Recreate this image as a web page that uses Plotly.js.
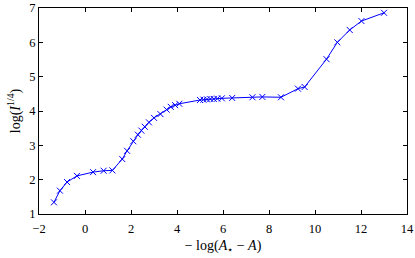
<!DOCTYPE html>
<html>
<head>
<meta charset="utf-8">
<script src="https://cdn.plot.ly/plotly-3.0.1.min.js"></script>
<style>html,body{margin:0;padding:0;background:#fff;}#chart{width:415px;height:258px;}</style>
</head>
<body>
<div id="chart"></div>
<script>
const xValues = [-1.35, -1.09, -0.78, -0.35, 0.35, 0.81, 1.19, 1.62, 1.83, 2.10, 2.30, 2.45, 2.60, 2.78, 3.00, 3.28, 3.55, 3.73, 3.92, 4.10,
  5.00, 5.15, 5.30, 5.45, 5.60, 5.75, 5.95, 6.40, 7.28, 7.71, 8.52, 9.26, 9.55, 10.50, 10.97, 11.51, 12.02, 13.00];
const yValues = [1.34, 1.68, 1.93, 2.11, 2.22, 2.26, 2.27, 2.60, 2.84, 3.12, 3.31, 3.43, 3.54, 3.67, 3.80, 3.91, 4.04, 4.12, 4.17, 4.21,
  4.32, 4.33, 4.34, 4.35, 4.35, 4.36, 4.37, 4.38, 4.40, 4.41, 4.40, 4.65, 4.70, 5.51, 6.00, 6.36, 6.62, 6.86];
const xTicks = [-2, 0, 2, 4, 6, 8, 10, 12, 14];
const yTicks = [1, 2, 3, 4, 5, 6, 7];
const xTickText = ['\u22122', '0', '2', '4', '6', '8', '10', '12', '14'];

const font = {family: 'Liberation Serif, serif', size: 12.5, color: '#000'};
const titleFont = {family: 'Liberation Serif, serif', size: 14, color: '#000'};
const axisCommon = {
  showgrid: false, zeroline: false, showline: true, linecolor: '#000', linewidth: 1,
  mirror: 'allticks', ticks: 'inside', ticklen: 4, tickwidth: 1, tickcolor: '#000',
  tickfont: font
};
const trace = {
  x: xValues, y: yValues, type: 'scatter', mode: 'lines+markers',
  line: {color: '#0000ff', width: 1},
  marker: {symbol: 'x-thin', size: 6, line: {color: '#0000ff', width: 1}, color: '#0000ff'}
};
const layout = {
  width: 415, height: 258,
  margin: {l: 39, r: 8, t: 8, b: 44},
  paper_bgcolor: '#fff', plot_bgcolor: '#fff',
  showlegend: false,
  font: font,
  xaxis: Object.assign({}, axisCommon, {
    range: [-2, 14], tickvals: xTicks, ticktext: xTickText, ticklabelstandoff: 3,
    title: {text: '\u2212 log(<i>A</i><sub>\u22c6</sub> \u2212 <i>A</i>)', font: titleFont, standoff: 5}
  }),
  yaxis: Object.assign({}, axisCommon, {
    range: [1, 7], tickvals: yTicks,
    title: {text: 'log(<i>I</i><sup>1/4</sup>)', font: titleFont, standoff: 5}
  })
};
Plotly.newPlot('chart', [trace], layout, {staticPlot: true, displayModeBar: false});
</script>
</body>
</html>
